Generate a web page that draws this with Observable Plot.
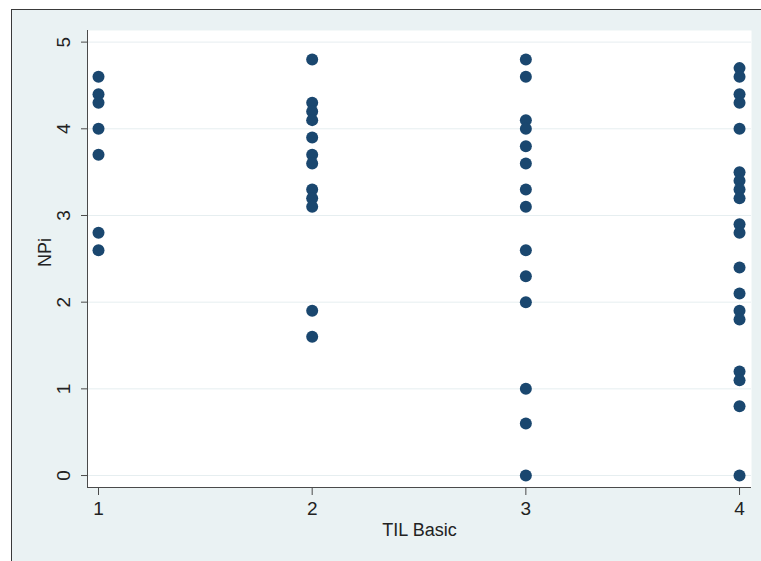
<!DOCTYPE html>
<html><head><meta charset="utf-8">
<script src="https://cdn.jsdelivr.net/npm/d3@7"></script>
<script src="https://cdn.jsdelivr.net/npm/@observablehq/plot@0.6"></script>
<style>
body{margin:0;background:#fff;}
#wrap{position:relative;width:761px;height:561px;overflow:hidden;background:#fff;}
#bg{position:absolute;left:11px;top:9px;width:760px;height:560px;background:#eaf2f3;border-top:1.5px solid #3a3a3a;border-left:1.5px solid #3a3a3a;}
#chart{position:absolute;left:0;top:0;}
</style></head>
<body>
<div id="wrap"><div id="bg"></div><div id="chart"></div></div>
<script>
// NPi values, one array per TIL Basic category
const til1 = [4.6, 4.4, 4.3, 4.0, 3.7, 2.8, 2.6];
const til2 = [4.8, 4.3, 4.2, 4.1, 3.9, 3.7, 3.6, 3.3, 3.2, 3.1, 1.9, 1.6];
const til3 = [4.8, 4.6, 4.1, 4.0, 3.8, 3.6, 3.3, 3.1, 2.6, 2.3, 2.0, 1.0, 0.6, 0.0];
const til4 = [4.7, 4.6, 4.4, 4.3, 4.0, 3.5, 3.4, 3.3, 3.2, 2.9, 2.8, 2.4, 2.1, 1.9, 1.8, 1.2, 1.1, 0.8, 0.0];
const categories = [1, 2, 3, 4];
const xTicks = [1, 2, 3, 4];
const yTicks = [0, 1, 2, 3, 4, 5];
const xTitle = "TIL Basic";
const yTitle = "NPi";

const series = [til1, til2, til3, til4];
const data = categories.flatMap((c, i) => series[i].map(v => ({til: c, npi: v})));

const xDomain = [0.9485, 4.056];
const yDomain = [-0.138, 5.134];
const font = "'Liberation Sans', Arial, sans-serif";
const axisColor = "#4a4a4a";

const chart = Plot.plot({
  width: 761,
  height: 561,
  marginLeft: 87,
  marginRight: 10,
  marginTop: 30,
  marginBottom: 74,
  style: {background: "transparent", fontFamily: font, color: "#222"},
  x: {domain: xDomain, label: null},
  y: {domain: yDomain, label: null},
  marks: [
    Plot.frame({fill: "white", stroke: null}),
    Plot.gridY(yTicks, {stroke: "#e6eef0", strokeOpacity: 1}),
    Plot.ruleX([xDomain[0]], {stroke: axisColor}),
    Plot.ruleY([yDomain[0]], {stroke: axisColor}),
    Plot.axisY(yTicks, {anchor: "left", tickSize: 6, tickFormat: () => "", label: null, stroke: axisColor}),
    Plot.axisX(xTicks, {anchor: "bottom", tickSize: 8, tickPadding: 6, fontSize: 19, label: null, tickFormat: d => String(d), stroke: axisColor, fill: "#222"}),
    Plot.text(yTicks, {y: d => d, text: d => String(d), frameAnchor: "left", dx: -24, rotate: -90, fontSize: 19, lineAnchor: "middle", textAnchor: "middle", fill: "#222"}),
    Plot.text([yTitle], {frameAnchor: "left", dx: -42, dy: 8, rotate: -90, fontSize: 18, lineAnchor: "middle", fill: "#222"}),
    Plot.text([xTitle], {frameAnchor: "bottom", dy: 43, fontSize: 18, lineAnchor: "middle", fill: "#222"}),
    Plot.dot(data, {x: "til", y: "npi", r: 6, fill: "#1a476f", stroke: null})
  ]
});
document.getElementById("chart").appendChild(chart);
</script>
</body></html>
